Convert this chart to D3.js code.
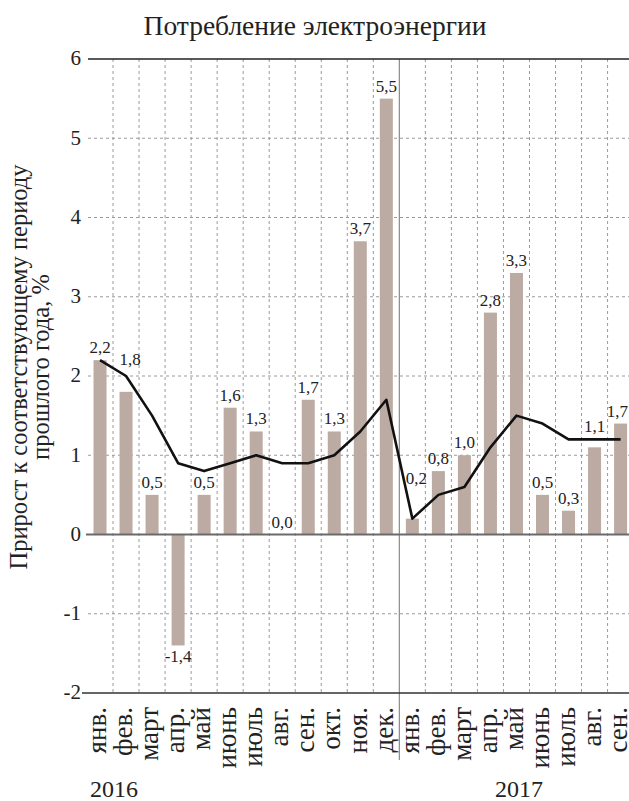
<!DOCTYPE html>
<html><head><meta charset="utf-8">
<script src="https://cdn.jsdelivr.net/npm/d3@7"></script>
<style>
html,body{margin:0;padding:0;background:#fff;}
svg{display:block;}
text{font-family:"Liberation Serif","DejaVu Serif",serif;fill:#222;}
</style></head>
<body>
<svg id="chart" width="629" height="801"></svg>
<script>
const months = ["янв.","фев.","март","апр.","май","июнь","июль","авг.","сен.","окт.","ноя.","дек.",
                "янв.","фев.","март","апр.","май","июнь","июль","авг.","сен."];
const years = ["2016","2017"];
const barValues = [2.2,1.8,0.5,-1.4,0.5,1.6,1.3,0.0,1.7,1.3,3.7,5.5,
                   0.2,0.8,1.0,2.8,3.3,0.5,0.3,1.1,1.4];
const barLabels = ["2,2","1,8","0,5","-1,4","0,5","1,6","1,3","0,0","1,7","1,3","3,7","5,5",
                   "0,2","0,8","1,0","2,8","3,3","0,5","0,3","1,1","1,7"];
const lineValues = [2.2,2.0,1.5,0.9,0.8,0.9,1.0,0.9,0.9,1.0,1.3,1.7,
                    0.2,0.5,0.6,1.1,1.5,1.4,1.2,1.2,1.2];
const yTicks = [-2,-1,0,1,2,3,4,5,6];
const title = "Потребление электроэнергии";
const yTitle = ["Прирост к соответствующему периоду","прошлого года, %"];

const svg = d3.select("#chart");
const idx = d3.range(months.length);
const x = d3.scaleBand().domain(idx).range([87, 633.6]).paddingInner(0.5).paddingOuter(0.25);
const y = d3.scaleLinear().domain([-2, 6]).range([693, 59]);
const step = x.step();
const cx = i => x(i) + x.bandwidth()/2;
const left = 88, right = 629;

// title
svg.append("text").attr("x", 315).attr("y", 35).attr("text-anchor","middle")
  .style("font-size","27.5px").text(title);

// gridlines
const grid = svg.append("g");
idx.slice(0, -1).forEach(i => {
  if (i === 11) return;
  grid.append("line").attr("x1", cx(i)+step/2).attr("x2", cx(i)+step/2)
    .attr("y1", y(6)).attr("y2", y(-2))
    .attr("stroke","#9a9a9a").attr("stroke-width",1).attr("stroke-dasharray","3,3");
});
yTicks.forEach(t => {
  if (t === 6 || t === -2 || t === 0) return;
  grid.append("line").attr("x1", left).attr("x2", right).attr("y1", y(t)).attr("y2", y(t))
    .attr("stroke","#9a9a9a").attr("stroke-width",1).attr("stroke-dasharray","3,3");
});

// year separator
const sepX = cx(11) + step/2;
svg.append("line").attr("x1", sepX).attr("x2", sepX).attr("y1", y(6)).attr("y2", 760)
  .attr("stroke","#8a8a8a").attr("stroke-width",1.2);

// bars
svg.append("g").selectAll("rect").data(barValues).join("rect")
  .attr("x", (d,i) => x(i)).attr("width", x.bandwidth())
  .attr("y", d => y(Math.max(0,d))).attr("height", d => Math.abs(y(d)-y(0)))
  .attr("fill","#bcaba3");

// frame lines
svg.append("line").attr("x1", left).attr("x2", right).attr("y1", y(6)).attr("y2", y(6))
  .attr("stroke","#222").attr("stroke-width",1.5);
svg.append("line").attr("x1", 82).attr("x2", right).attr("y1", y(-2)).attr("y2", y(-2))
  .attr("stroke","#333").attr("stroke-width",1.5);
svg.append("line").attr("x1", 86).attr("x2", right).attr("y1", y(0)).attr("y2", y(0))
  .attr("stroke","#6a6a6a").attr("stroke-width",2);

// line
const line = d3.line().x((d,i) => cx(i)).y(d => y(d));
svg.append("path").datum(lineValues).attr("d", line)
  .attr("fill","none").attr("stroke","#111").attr("stroke-width",2.6).attr("stroke-linejoin","round");

// y tick labels
svg.append("g").selectAll("text").data(yTicks).join("text")
  .attr("x", 81).attr("y", d => y(d)).attr("dy","0.3em").attr("text-anchor","end")
  .style("font-size","21px").text(d => d < 0 ? "-" + Math.abs(d) : d);

// bar labels, lifted above the line where it crosses them
const pts = idx.map(i => [cx(i), y(lineValues[i])]);
function lineYAt(px) {
  for (let k = 0; k < pts.length-1; k++) {
    if (px >= pts[k][0] && px <= pts[k+1][0]) {
      const t = (px - pts[k][0])/(pts[k+1][0]-pts[k][0]);
      return pts[k][1] + t*(pts[k+1][1]-pts[k][1]);
    }
  }
  return null;
}
function lineYs(a, b) {
  const out = [];
  for (let px = a; px <= b; px += 0.5) {
    const ly = lineYAt(px);
    if (ly !== null) out.push(ly);
  }
  return out;
}
const lbl = svg.append("g");
barValues.forEach((v,i) => {
  let c = cx(i);
  let yy;
  if (v < 0) {
    yy = y(v) + 17;
  } else {
    const top = y(v);
    yy = top - 7;
    const ys = lineYs(c-10, c+10);
    const hit = ys.some(ly => ly >= yy - 14 && ly <= top + 2);
    if (hit) {
      const l = lineYAt(c-10), r = lineYAt(c+10);
      if (l !== null && r !== null && l < r - 3) c += 4;
      yy = Math.min(yy, d3.min(lineYs(c-10, c+10)) - 7);
    }
  }
  const t = lbl.append("text").attr("y", yy).attr("text-anchor","middle")
    .style("font-size","17px").text(barLabels[i]);
  const w = t.node().getComputedTextLength();
  t.attr("x", Math.min(c, 628 - w/2));
});

// x labels
svg.append("g").selectAll("text").data(months).join("text")
  .attr("transform", (d,i) => `translate(${cx(i)},707) rotate(-90)`)
  .attr("dy","0.23em").attr("text-anchor","end")
  .style("font-size","27px").text(d => d);

// years
svg.append("text").attr("x", 90).attr("y", 797).style("font-size","24px").text(years[0]);
svg.append("text").attr("x", 519).attr("y", 797).attr("text-anchor","middle").style("font-size","24px").text(years[1]);

// y title
const yt = svg.append("text").attr("transform","translate(0,367) rotate(-90)")
  .attr("text-anchor","middle").style("font-size","24.5px");
yt.append("tspan").attr("x",0).attr("y",27).text(yTitle[0]);
yt.append("tspan").attr("x",0).attr("y",49).text(yTitle[1]);
</script>
</body></html>
